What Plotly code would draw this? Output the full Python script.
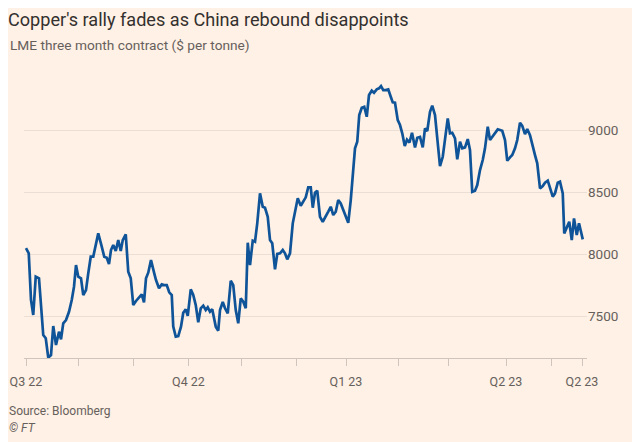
import plotly.graph_objects as go

# Trading-day index (0 = 1 Jul 2022) and LME 3-month copper price ($/tonne)
day = [0.0, 1.1, 2.0, 2.9, 3.9, 5.2, 6.9, 7.9, 8.9, 10.0, 10.9, 12.0, 13.2, 14.0, 14.9, 16.0,
       17.2, 18.3, 19.2, 20.0, 20.9, 22.0, 22.9, 24.0, 24.9, 25.9, 26.9, 28.0, 28.9, 30.3,
       31.3, 32.3, 33.2, 34.0, 34.9, 35.9, 36.9, 37.9, 38.7, 39.9, 40.9, 41.9, 42.9, 44.0,
       45.3, 46.3, 47.2, 48.0, 48.9, 50.0, 51.2, 52.0, 53.2, 54.3, 55.2, 56.3, 57.3, 58.3,
       58.9, 59.9, 60.9, 62.0, 62.9, 63.9, 64.7, 65.9, 66.9, 67.9, 68.9, 69.9, 70.9, 71.9,
       72.7, 73.6, 74.5, 75.9, 76.9, 77.6, 78.7, 79.6, 80.7, 81.9, 82.9, 83.9, 84.9, 85.9,
       86.9, 87.9, 88.7, 89.6, 90.7, 91.6, 92.5, 93.6, 94.7, 95.6, 96.7, 97.6, 98.5, 99.6,
       100.5, 101.6, 102.7, 103.6, 104.5, 105.6, 106.7, 107.6, 108.7, 109.9, 110.9, 111.9,
       112.9, 113.9, 114.7, 115.6, 116.5, 117.6, 118.7, 119.9, 120.9, 121.9, 122.9, 123.9,
       124.9, 125.9, 126.9, 127.9, 128.9, 129.9, 130.7, 131.6, 132.5,
       133.3, 134.3, 135.3, 136.3, 137.2, 138.3, 139.2, 140.3, 141.2, 142.0, 142.9, 143.9,
       144.9, 145.9, 146.7, 147.6, 148.7, 149.6, 150.5, 151.5, 152.4, 153.4, 154.4, 155.6,
       156.5, 157.6, 158.7, 159.6, 160.5, 161.6, 162.5, 163.6, 164.7, 165.6, 166.7, 167.6,
       168.7, 169.6, 170.5, 171.6, 172.5, 173.6, 174.5, 175.6, 176.7, 177.6, 178.5, 179.6,
       180.5, 181.6, 182.7, 183.6, 184.7, 185.6, 186.7, 187.6, 188.7, 189.6, 190.5, 191.6,
       192.5, 193.6, 194.5, 195.6, 196.5, 197.6, 198.5, 199.6, 200.5, 201.6, 202.5, 203.6,
       204.5, 205.6, 206.7, 207.6, 208.7, 209.6, 210.7, 211.6, 212.7, 213.6, 214.7, 215.3,
       216.3, 217.3, 218.3, 219.2, 220.3, 221.2, 222.0, 222.7]
price = [8053, 8011, 7635, 7514, 7823, 7810, 7352, 7326, 7170, 7191, 7425, 7272, 7379, 7318, 7447, 7473,
         7540, 7635, 7742, 7917, 7823, 7810, 7675, 7715, 7850, 7984, 7984, 8080, 8172, 8065,
         7984, 7976, 7925, 8038, 8078, 8030, 8118, 8030, 8118, 8164, 7863, 7810, 7594, 7627,
         7657, 7681, 7616, 7810, 7855, 7957, 7858, 7796, 7729, 7761, 7755, 7755, 7697, 7675,
         7420, 7339, 7344, 7420, 7532, 7560, 7506, 7721, 7675, 7594, 7455, 7568, 7589, 7554,
         7576, 7540, 7560, 7420, 7387, 7554, 7619, 7568, 7527, 7790, 7755, 7554, 7447, 7648,
         7621, 7568, 8097, 7917, 8113, 8105, 8253, 8495, 8387, 8379, 8306, 8118, 8092, 7882,
         8006, 8011, 8038, 8011, 7963, 8011, 8253, 8347, 8455, 8395, 8427, 8463,
         8544, 8544, 8379, 8500, 8516, 8306, 8266, 8306, 8347, 8387, 8320, 8347,
         8441, 8414, 8366, 8320, 8258, 8441, 8643, 8858, 8911,
         9127, 9186, 9194, 9113, 9288, 9323, 9306, 9334, 9342, 9360, 9328, 9328,
         9334, 9274, 9229, 9226, 9086, 9046, 8979, 8877, 8928, 8905, 8984, 8866,
         8943, 8950, 8866, 9019, 8998, 9153, 9202, 9127, 8925, 8715, 8790, 8925,
         9100, 8979, 8984, 8939, 8769, 8911, 8858, 8866, 8933, 8844, 8508, 8516,
         8562, 8683, 8764, 8858, 9032, 8925, 8957, 8979, 9011, 9006, 9000, 8925,
         8758, 8785, 8804, 8858, 8925, 9065, 9040, 8973, 9014, 8965, 8885, 8804,
         8737, 8535, 8554, 8581, 8597, 8535, 8468, 8495, 8581, 8589, 8495, 8172,
         8226, 8266, 8118, 8293, 8159, 8253, 8185, 8124]

tick_days = [0, 21, 43, 65, 86, 108, 128, 149, 169, 192, 210, 222.4]
tick_text = ["Q3 22", "", "", "Q4 22", "", "", "Q1 23", "", "", "Q2 23", "", "Q2 23"]
y_ticks = [7500, 8000, 8500, 9000]

title = "Copper's rally fades as China rebound disappoints"
subtitle = "LME three month contract ($ per tonne)"
source = "Source: Bloomberg"

BG = "#FFF1E5"
LINE = "#0F5499"
GRID = "#EBDFD5"
AXIS = "#CFC5BC"
TXT = "#33302E"
MUTED = "#66605C"
FONT = "Roboto, 'Noto Sans', sans-serif"

fig = go.Figure(go.Scatter(x=day, y=price, mode="lines",
                           line=dict(color=LINE, width=2.7), hoverinfo="skip"))

# the page body adds an 8px offset, so the figure is laid out 8px up/left
W, H = 632, 434
L, R, T, B = 16, 53, 62, 84

fig.update_layout(
    width=W, height=H,
    paper_bgcolor=BG, plot_bgcolor=BG,
    margin=dict(l=L, r=R, t=T, b=B, autoexpand=False),
    showlegend=False,
    font=dict(family=FONT, color=MUTED),
    title=dict(text=title, x=0, xref="container", xanchor="left",
               y=1 - 12 / H, yref="container", yanchor="middle",
               pad=dict(l=0, r=0, t=0, b=0),
               font=dict(size=18.1, color=TXT, family=FONT)),
    xaxis=dict(range=[-0.8, 224.4], tickmode="array", tickvals=tick_days, ticktext=tick_text,
               showgrid=False, zeroline=False, showline=True, linecolor=AXIS, linewidth=1,
               ticks="outside", ticklen=7, tickcolor=AXIS, tickwidth=1, automargin=False,
               ticklabelstandoff=5,
               tickfont=dict(size=12.5, color=MUTED), fixedrange=True),
    yaxis=dict(range=[7167, 9490], side="right", tickmode="array", tickvals=y_ticks,
               ticktext=[str(v) for v in y_ticks], automargin=False,
               showgrid=True, gridcolor=GRID, gridwidth=1, zeroline=False, showline=False,
               ticks="", tickfont=dict(size=13.5, color=MUTED), fixedrange=True),
)

pw, ph = W - L - R, H - T - B


def px_x(px):
    return (px - L) / pw


def px_y(py):
    return (H - B - py) / ph


fig.add_annotation(text=subtitle, x=px_x(0), y=px_y(37), xref="paper", yref="paper",
                   xanchor="left", yanchor="middle", showarrow=False,
                   font=dict(size=13.7, color=MUTED, family=FONT))
fig.add_annotation(text=source, x=px_x(-1), y=px_y(403), xref="paper", yref="paper",
                   xanchor="left", yanchor="middle", showarrow=False,
                   font=dict(size=12, color=MUTED, family=FONT))
fig.add_annotation(text="<i>© FT</i>", x=px_x(-1), y=px_y(420), xref="paper", yref="paper",
                   xanchor="left", yanchor="middle", showarrow=False,
                   font=dict(size=12, color=MUTED, family=FONT))

fig.write_html("out.html", config={"displayModeBar": False})
